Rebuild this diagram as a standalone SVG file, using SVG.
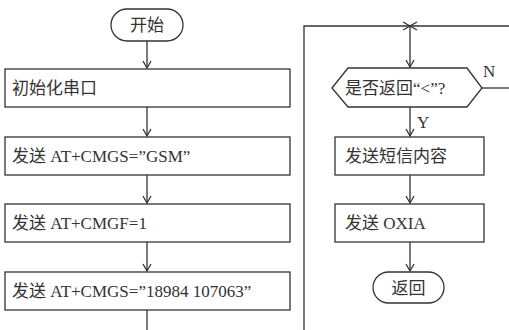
<svg xmlns="http://www.w3.org/2000/svg" width="509" height="330" viewBox="0 0 509 330">
<style>
.s{fill:#fff;stroke:#333;stroke-width:1.3}
.t{font-family:"Liberation Serif","Noto Sans CJK SC",serif;font-size:17px;fill:#333}
.c{fill:none;stroke:#333;stroke-width:1.3}
</style>
<defs>
<marker id="a" markerWidth="10" markerHeight="10" refX="8" refY="5" orient="auto" markerUnits="userSpaceOnUse">
<path d="M1,1 L8,5 L1,9" fill="none" stroke="#333" stroke-width="1.3"/>
</marker>
</defs>
<g id="connectors">
<path class="c" d="M147,41 V68" marker-end="url(#a)"/>
<path class="c" d="M147,107 V136" marker-end="url(#a)"/>
<path class="c" d="M147,175 V203" marker-end="url(#a)"/>
<path class="c" d="M147,242 V271" marker-end="url(#a)"/>
<path class="c" d="M147,310 V330"/>
<path class="c" d="M304,330 V26 H410" marker-end="url(#a)"/>
<path class="c" d="M509,26 H410" marker-end="url(#a)"/>
<path class="c" d="M410,26 V67" marker-end="url(#a)"/>
<path class="c" d="M482,88 H509"/>
<path class="c" d="M410,107 V136" marker-end="url(#a)"/>
<path class="c" d="M410,175 V203" marker-end="url(#a)"/>
<path class="c" d="M410,242 V271" marker-end="url(#a)"/>
<text class="t" x="483" y="77">N</text>
<text class="t" x="417" y="128">Y</text>
</g>
<g id="start"><rect class="s" x="111" y="9" width="72" height="32" rx="16"/><text class="t" x="147" y="31" text-anchor="middle">开始</text></g>
<g id="init"><rect class="s" x="5" y="69" width="285" height="38"/><text class="t" x="12" y="94">初始化串口</text></g>
<g id="gsm"><rect class="s" x="5" y="137" width="285" height="38"/><text class="t" x="12" y="162">发送 AT+CMGS=”GSM”</text></g>
<g id="cmgf"><rect class="s" x="5" y="204" width="285" height="38"/><text class="t" x="12" y="229">发送 AT+CMGF=1</text></g>
<g id="num"><rect class="s" x="5" y="272" width="285" height="38"/><text class="t" x="12" y="297">发送 AT+CMGS=”18984 107063”</text></g>
<g id="decision"><path class="s" d="M332,88 L348,68 H467 L482,88 L467,107 H348 Z"/><text class="t" x="345" y="94">是否返回“&lt;”?</text></g>
<g id="content"><rect class="s" x="335" y="137" width="149" height="38"/><text class="t" x="345" y="162">发送短信内容</text></g>
<g id="oxia"><rect class="s" x="335" y="204" width="149" height="38"/><text class="t" x="345" y="229">发送 OXIA</text></g>
<g id="ret"><rect class="s" x="373" y="272" width="71" height="31" rx="15.5"/><text class="t" x="408.5" y="294" text-anchor="middle">返回</text></g>
</svg>
